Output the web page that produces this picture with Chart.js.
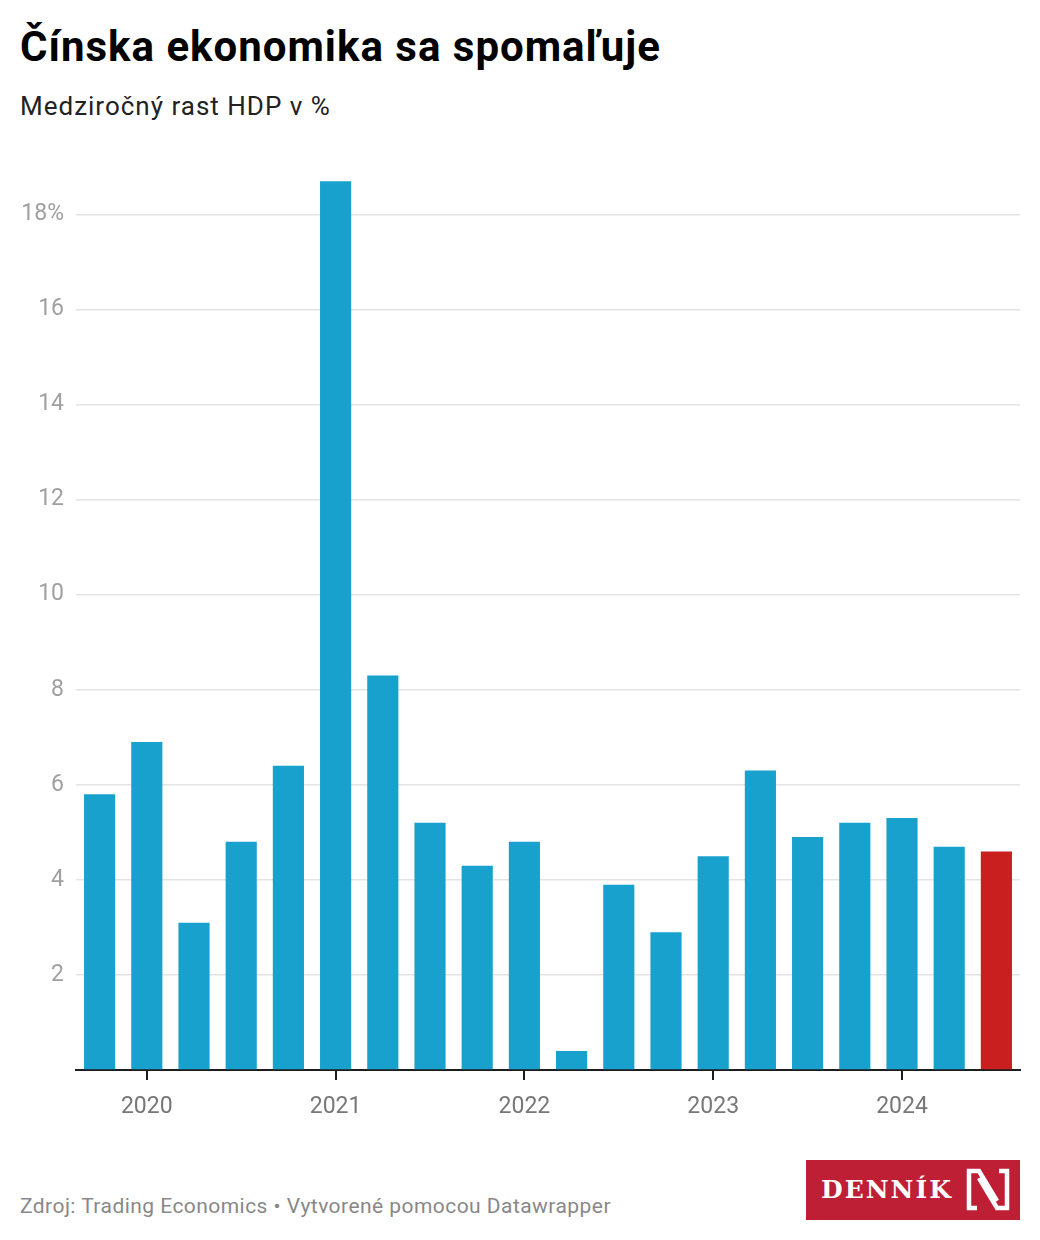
<!DOCTYPE html>
<html lang="sk">
<head>
<meta charset="utf-8">
<script src="https://cdn.jsdelivr.net/npm/chart.js@4/dist/chart.umd.min.js"></script>
<style>
  html, body { margin: 0; padding: 0; background: #fff; }
  body { width: 1040px; height: 1240px; position: relative; font-family: Roboto, "Noto Sans", sans-serif; overflow: hidden; }
  #title { position: absolute; left: 20px; top: 23px; font-size: 42px; font-weight: 700; color: #000; line-height: 48px; letter-spacing: 1px; white-space: nowrap; }
  #subtitle { position: absolute; left: 20px; top: 91px; font-size: 26px; color: #222; line-height: 31px; letter-spacing: 1px; }
  #chartBox { position: absolute; left: 0; top: 140px; width: 1040px; height: 1000px; }
  #footer { position: absolute; left: 20px; top: 1194px; font-size: 21px; color: #888; line-height: 25px; letter-spacing: 0.45px; }
  #logo { position: absolute; left: 806px; top: 1160px; width: 214px; height: 60px; background: #be1f34; }
  #logo span { position: absolute; left: 15px; top: 14px; font-family: "DejaVu Serif", "Liberation Serif", serif; font-weight: 700; font-size: 25px; line-height: 32px; color: #fff; letter-spacing: 2px; }
  #logo svg { position: absolute; left: 158px; top: 8px; }
</style>
</head>
<body>
<div id="title">Čínska ekonomika sa spomaľuje</div>
<div id="subtitle">Medziročný rast HDP v %</div>
<div id="chartBox"><canvas id="gdpChart" width="1040" height="1000"></canvas></div>
<div id="footer">Zdroj: Trading Economics • Vytvorené pomocou Datawrapper</div>
<div id="logo">
  <span>DENNÍK</span>
  <svg width="48" height="44" viewBox="0 0 48 44">
    <polyline points="13,40 5,40 5,3 15,3 33,33" fill="none" stroke="#fff" stroke-width="4.5"/>
    <polyline points="35,3 43,3 43,40 33,40 15,10" fill="none" stroke="#fff" stroke-width="4.5"/>
  </svg>
</div>

<script>
// quarters, 2019 Q4 - 2024 Q3
const quarters = [
    '2019 Q4', '2020 Q1', '2020 Q2', '2020 Q3', '2020 Q4',
    '2021 Q1', '2021 Q2', '2021 Q3', '2021 Q4', '2022 Q1',
    '2022 Q2', '2022 Q3', '2022 Q4', '2023 Q1', '2023 Q2',
    '2023 Q3', '2023 Q4', '2024 Q1', '2024 Q2', '2024 Q3'
];

// year-on-year GDP growth, %
const growth = [
    5.8, 6.9, 3.1, 4.8, 6.4,
    18.7, 8.3, 5.2, 4.3, 4.8,
    0.4, 3.9, 2.9, 4.5, 6.3,
    4.9, 5.2, 5.3, 4.7, 4.6
];

const yTicks = [2, 4, 6, 8, 10, 12, 14, 16, 18];

const blue = '#18a1cd';
const red = '#c91f1f';

function isYearStart(label) {
    return label.endsWith('Q1');
}

function buildGrowthChart() {
    const ctx = document.getElementById('gdpChart').getContext('2d');

    const colors = growth.map((v, i) => i === growth.length - 1 ? red : blue);

    new Chart(ctx, {
        type: 'bar',
        data: {
            labels: quarters,
            datasets: [{
                label: 'HDP',
                data: growth,
                backgroundColor: colors,
                borderWidth: 0,
                categoryPercentage: 1,
                barPercentage: 0.66
            }]
        },
        options: {
            responsive: false,
            animation: false,
            layout: {
                padding: { top: 27, right: 20, left: 0, bottom: 0 }
            },
            plugins: {
                legend: { display: false },
                tooltip: { enabled: false }
            },
            scales: {
                x: {
                    z: 1,
                    offset: true,
                    afterFit: scale => { scale.height = 70; },
                    grid: {
                        offset: false,
                        drawOnChartArea: false,
                        drawTicks: true,
                        tickLength: 10,
                        lineWidth: 2,
                        color: c => isYearStart(quarters[c.index] || '') ? '#1d1d1d' : 'rgba(0,0,0,0)',
                        tickColor: c => isYearStart(quarters[c.index] || '') ? '#1d1d1d' : 'rgba(0,0,0,0)'
                    },
                    border: { display: true, color: '#1d1d1d', width: 2 },
                    ticks: {
                        autoSkip: false,
                        maxRotation: 0,
                        padding: 13,
                        color: '#777',
                        font: { family: 'Roboto', size: 23 },
                        callback: function(value, index) {
                            const q = quarters[index];
                            return isYearStart(q) ? q.slice(0, 4) : '';
                        }
                    }
                },
                y: {
                    min: 0,
                    max: 19,
                    afterFit: scale => { scale.width = 76; },
                    border: { display: false },
                    grid: {
                        drawTicks: false,
                        lineWidth: 1.5,
                        color: c => c.tick && c.tick.value === 0 ? 'rgba(0,0,0,0)' : '#e3e3e3'
                    },
                    afterBuildTicks: scale => {
                        scale.ticks = [0].concat(yTicks).map(v => ({ value: v }));
                    },
                    ticks: {
                        padding: 12,
                        color: '#a0a0a0',
                        font: { family: 'Roboto', size: 23 },
                        callback: value => {
                            if (value === 0) return '';
                            return value === yTicks[yTicks.length - 1] ? value + '%' : String(value);
                        }
                    }
                }
            }
        }
    });
}

buildGrowthChart();
</script>
</body>
</html>
